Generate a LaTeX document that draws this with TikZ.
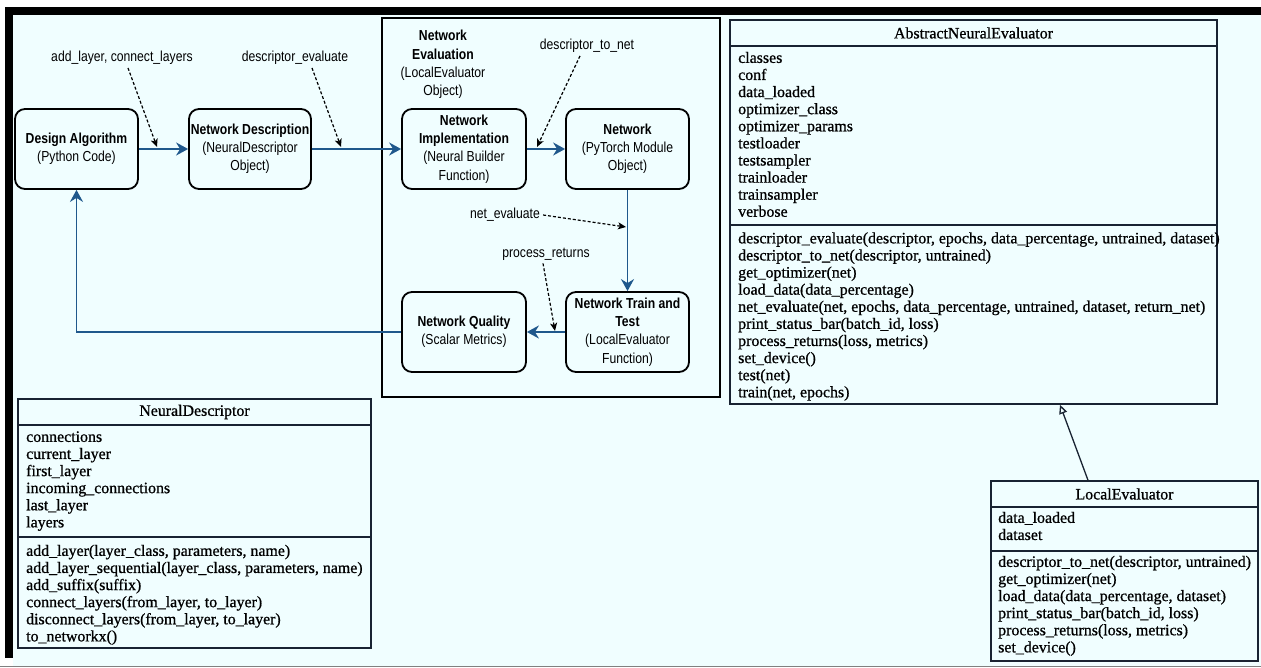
\documentclass[tikz,border=0pt]{standalone}
\usepackage{fontspec}
\setmainfont{Liberation Serif}
\newfontfamily\sansn[FakeStretch=0.84]{Liberation Sans}
\newfontfamily\umlf[FakeBold=0.8]{Liberation Serif}
\usetikzlibrary{arrows.meta,calc}
\definecolor{bgc}{RGB}{240,254,255}
\definecolor{flowblue}{RGB}{31,88,140}
\definecolor{umlline}{RGB}{25,35,50}
\newcommand{\flowfont}{\fontsize{14.5}{18.2}\selectfont\sansn}
\newcommand{\umltext}{\fontsize{15.9}{17.1}\selectfont\umlf}
\tikzset{
  flowbox/.style={draw=black, line width=1.8pt, rounded corners=10pt, minimum width=123pt,
    minimum height=80pt, inner sep=1pt, align=center, font=\flowfont},
  flowarrow/.style={draw=flowblue, line width=2pt, -{Stealth[length=12pt,width=13pt,inset=4pt]}},
  dasharrow/.style={draw=black, line width=1.2pt, dash pattern=on 3pt off 2pt,
    -{Stealth[length=8pt,width=7pt,inset=2pt]}},
  lbl/.style={font=\flowfont, inner sep=3pt},
  umlbox/.style={draw=umlline, line width=1.5pt, inner sep=0pt},
  umlsep/.style={draw=umlline, line width=1.5pt},
  umltitle/.style={font=\umltext, inner sep=0pt},
  umllist/.style={font=\umltext, inner sep=0pt, anchor=north west, align=left},
  inherit/.style={draw=umlline, line width=1.3pt, -{Triangle[open,length=9pt,width=8pt]}}
}
\begin{document}
\begin{tikzpicture}[x=1pt,y=-1pt]
\useasboundingbox (0,0) rectangle (1261,668);
\fill[white] (0,0) rectangle (1261,668);
\fill[bgc] (13,15) rectangle (1261,666);
\fill[black] (5,7) rectangle (1261,15);
\fill[black] (5,7) rectangle (13,658);
\draw[gray, line width=1.5pt] (0,666.5) -- (1261,666.5);

% evaluation frame
\node[draw=black, line width=1.5pt, minimum width=338pt, minimum height=379pt, inner sep=0pt] (evalframe) at (551,207.5) {};
\node[font=\flowfont, align=center, inner sep=0pt] (evaltitle) at (443,64.5)
  {\textbf{Network}\\\textbf{Evaluation}\\(LocalEvaluator\\Object)};

% flow boxes
\node[flowbox] (da) at (76.5,149) {\textbf{Design Algorithm}\\(Python Code)};
\node[flowbox, minimum width=122pt] (nd) at (250,149) {\textbf{Network Description}\\(NeuralDescriptor\\Object)};
\node[flowbox, minimum width=124pt] (ni) at (464,149) {\textbf{Network}\\\textbf{Implementation}\\(Neural Builder\\Function)};
\node[flowbox] (net) at (627.5,149) {\textbf{Network}\\(PyTorch Module\\Object)};
\node[flowbox] (ntt) at (627.5,332) {\textbf{Network Train and}\\\textbf{Test}\\(LocalEvaluator\\Function)};
\node[flowbox, minimum width=124pt] (nq) at (464,332) {\textbf{Network Quality}\\(Scalar Metrics)};

% flow arrows
\draw[flowarrow] (da.east) -- (nd.west);
\draw[flowarrow] (nd.east) -- (ni.west);
\draw[flowarrow] (ni.east) -- (net.west);
\draw[flowarrow, line width=1.5pt] (net.south) -- (ntt.north);
\draw[flowarrow] (ntt.west) -- (nq.east);
\draw[flowarrow, line width=1.5pt] (nq.west) -| (da.south);

% labels with dashed arrows
\node[lbl] (lab1) at (122,58) {add\_layer, connect\_layers};
\node[lbl] (lab2) at (295,58) {descriptor\_evaluate};
\node[lbl] (lab3) at (587,46) {descriptor\_to\_net};
\node[lbl] (lab4) at (505,215) {net\_evaluate};
\node[lbl] (lab5) at (546,254) {process\_returns};
\coordinate (t1) at (157,147);
\coordinate (t2) at (341,147);
\coordinate (t3) at (537,147);
\coordinate (t4) at (626,227);
\coordinate (t5) at (555,331);
\draw[dasharrow] ([xshift=6pt]lab1.south) -- (t1);
\draw[dasharrow] ([xshift=17pt]lab2.south) -- (t2);
\draw[dasharrow] ([xshift=-7pt]lab3.south) -- (t3);
\draw[dasharrow] (lab4.east) -- (t4);
\draw[dasharrow] ([xshift=-3pt]lab5.south) -- (t5);

% NeuralDescriptor class
\node[umlbox, minimum width=353pt, minimum height=249pt] (ndc) at (194.5,523.5) {};
\node[umltitle] (ndt) at (194.5,412) {NeuralDescriptor};
\draw[umlsep] (ndc.west |- 0,425) -- (ndc.east |- 0,425);
\draw[umlsep] (ndc.west |- 0,537) -- (ndc.east |- 0,537);
\node[umllist] (nda) at (26,429.7) {\strut connections\\\strut current\_layer\\\strut first\_layer\\\strut incoming\_connections\\\strut last\_layer\\\strut layers};
\node[umllist] (ndm) at (26,543.7) {\strut add\_layer(layer\_class, parameters, name)\\\strut add\_layer\_sequential(layer\_class, parameters, name)\\\strut add\_suffix(suffix)\\\strut connect\_layers(from\_layer, to\_layer)\\\strut disconnect\_layers(from\_layer, to\_layer)\\\strut to\_networkx()};

% AbstractNeuralEvaluator class
\node[umlbox, minimum width=487pt, minimum height=384pt] (anec) at (973.5,212) {};
\node[umltitle] (anet) at (973.5,33) {AbstractNeuralEvaluator};
\draw[umlsep] (anec.west |- 0,46) -- (anec.east |- 0,46);
\draw[umlsep] (anec.west |- 0,225) -- (anec.east |- 0,225);
\node[umllist] (anea) at (738,50.7) {\strut classes\\\strut conf\\\strut data\_loaded\\\strut optimizer\_class\\\strut optimizer\_params\\\strut testloader\\\strut testsampler\\\strut trainloader\\\strut trainsampler\\\strut verbose};
\node[umllist] (anem) at (738,231.2) {\strut descriptor\_evaluate(descriptor, epochs, data\_percentage, untrained, dataset)\\\strut descriptor\_to\_net(descriptor, untrained)\\\strut get\_optimizer(net)\\\strut load\_data(data\_percentage)\\\strut net\_evaluate(net, epochs, data\_percentage, untrained, dataset, return\_net)\\\strut print\_status\_bar(batch\_id, loss)\\\strut process\_returns(loss, metrics)\\\strut set\_device()\\\strut test(net)\\\strut train(net, epochs)};

% LocalEvaluator class
\node[umlbox, minimum width=267pt, minimum height=180pt] (lec) at (1124.5,571) {};
\node[umltitle] (let) at (1124.5,494) {LocalEvaluator};
\draw[umlsep] (lec.west |- 0,507) -- (lec.east |- 0,507);
\draw[umlsep] (lec.west |- 0,551) -- (lec.east |- 0,551);
\node[umllist] (lea) at (998,510.7) {\strut data\_loaded\\\strut dataset};
\node[umllist] (lem) at (998,554.7) {\strut descriptor\_to\_net(descriptor, untrained)\\\strut get\_optimizer(net)\\\strut load\_data(data\_percentage, dataset)\\\strut print\_status\_bar(batch\_id, loss)\\\strut process\_returns(loss, metrics)\\\strut set\_device()};

% inheritance
\draw[inherit] ([xshift=-36.5pt]lec.north) -- ([xshift=86.5pt]anec.south);
\end{tikzpicture}
\end{document}
